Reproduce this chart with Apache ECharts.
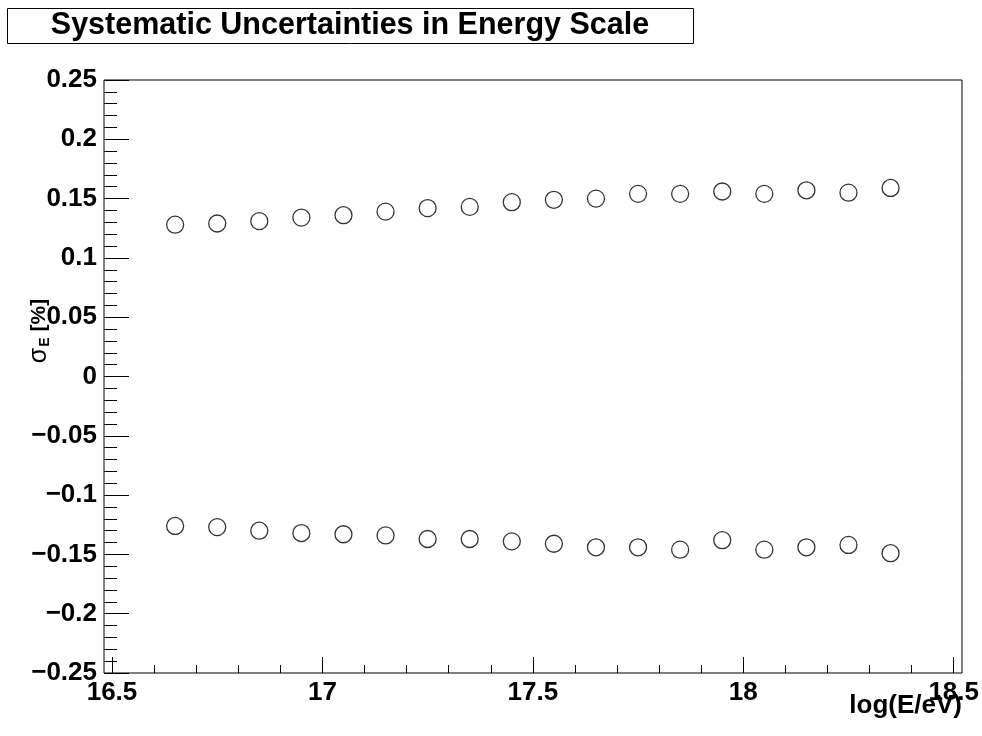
<!DOCTYPE html>
<html>
<head>
<meta charset="utf-8">
<script src="https://cdn.jsdelivr.net/npm/echarts@6/dist/echarts.min.js"></script>
<style>
  html, body { margin: 0; padding: 0; background: #fff; }
  #chart { width: 982px; height: 736px; }
</style>
</head>
<body>
<div id="chart"></div>
<script>
// log10 of the energy bin centres (eV)
var logEnergy = [16.65, 16.75, 16.85, 16.95, 17.05, 17.15, 17.25, 17.35, 17.45,
                 17.55, 17.65, 17.75, 17.85, 17.95, 18.05, 18.15, 18.25, 18.35];
// upward systematic shift of the energy scale
var sigmaUp = [0.128, 0.129, 0.131, 0.134, 0.136, 0.139, 0.142, 0.143, 0.147,
               0.149, 0.150, 0.154, 0.154, 0.156, 0.154, 0.157, 0.155, 0.159];
// downward systematic shift of the energy scale
var sigmaDown = [-0.126, -0.127, -0.130, -0.132, -0.133, -0.134, -0.137, -0.137, -0.139,
                 -0.141, -0.144, -0.144, -0.146, -0.138, -0.146, -0.144, -0.142, -0.149];

var xTicks = { min: 16.5, max: 18.5, step: 0.5 };
var yTicks = { min: -0.25, max: 0.25, step: 0.05 };

var titleText = 'Systematic Uncertainties in Energy Scale';
var xTitle = 'log(E/eV)';

var FONT = '"Liberation Sans", Arial, Helvetica, sans-serif';

function fmt(v) {
  var s = String(parseFloat(v.toFixed(3)));
  return s.replace('-', '\u2212');
}

function pairs(xs, ys) {
  return xs.map(function (x, i) { return [x, ys[i]]; });
}

var chart = echarts.init(document.getElementById('chart'), null, { renderer: 'canvas' });

var marker = {
  type: 'scatter',
  xAxisIndex: 1,
  yAxisIndex: 1,
  symbol: 'circle',
  symbolSize: 17,
  itemStyle: { color: 'rgba(0,0,0,0)', borderColor: '#000', borderWidth: 1.3 },
  emphasis: { disabled: true },
  silent: true
};

chart.setOption({
  backgroundColor: '#fff',
  animation: false,
  textStyle: { fontFamily: FONT },
  grid: [
    // frame with the vertical scale
    { left: 104, right: 20, top: 80, bottom: 63, show: true,
      borderColor: '#000', borderWidth: 1, backgroundColor: 'rgba(0,0,0,0)' },
    // plotting area for the energy scale (slightly inset inside the frame)
    { left: 112, right: 28, top: 80, bottom: 63 }
  ],
  xAxis: [
    { gridIndex: 0, type: 'value', min: 0, max: 1, show: false },
    {
      gridIndex: 1, type: 'value',
      min: xTicks.min, max: xTicks.max, interval: xTicks.step,
      axisLine: { show: false, onZero: false },
      axisTick: { show: true, inside: true, length: 16, lineStyle: { color: '#000', width: 1 } },
      minorTick: { show: true, splitNumber: 5, length: 8, lineStyle: { color: '#000', width: 1 } },
      splitLine: { show: false },
      axisLabel: {
        margin: 7, color: '#000', fontSize: 26, fontWeight: 'bold', fontFamily: FONT,
        showMinLabel: true, showMaxLabel: true,
        formatter: fmt
      }
    }
  ],
  yAxis: [
    {
      gridIndex: 0, type: 'value',
      min: yTicks.min, max: yTicks.max, interval: yTicks.step,
      axisLine: { show: false, onZero: false },
      axisTick: { show: true, inside: true, length: 25, lineStyle: { color: '#000', width: 1 } },
      minorTick: { show: true, splitNumber: 5, length: 13, lineStyle: { color: '#000', width: 1 } },
      splitLine: { show: false },
      axisLabel: {
        margin: 7, color: '#000', fontSize: 26, fontWeight: 'bold', fontFamily: FONT,
        showMinLabel: true, showMaxLabel: true,
        formatter: fmt
      }
    },
    { gridIndex: 1, type: 'value', min: yTicks.min, max: yTicks.max, show: false }
  ],
  graphic: [
    {
      type: 'rect', left: 7, top: 8,
      shape: { width: 686, height: 35 },
      style: { fill: '#fff', stroke: '#000', lineWidth: 1 }
    },
    {
      type: 'text', x: 350, y: 26,
      style: {
        text: titleText, fill: '#000', font: 'bold 30.5px ' + FONT,
        align: 'center', verticalAlign: 'middle'
      }
    },
    {
      type: 'text', x: 962, y: 706,
      style: {
        text: xTitle, fill: '#000', font: 'bold 26px ' + FONT,
        align: 'right', verticalAlign: 'middle'
      }
    },
    {
      type: 'text', x: 39, y: 331, rotation: Math.PI / 2,
      style: {
        text: '{s|\u03c3}{e|E}{b| [%]}',
        align: 'center', verticalAlign: 'middle',
        rich: {
          s: { fontSize: 25, fontFamily: FONT, fill: '#000', fontWeight: 'normal' },
          e: { fontSize: 14, fontFamily: FONT, fill: '#000', fontWeight: 'bold', padding: [12, 0, 0, 1] },
          b: { fontSize: 21, fontFamily: FONT, fill: '#000', fontWeight: 'bold' }
        }
      }
    }
  ],
  series: [
    Object.assign({ name: 'up', data: pairs(logEnergy, sigmaUp) }, marker),
    Object.assign({ name: 'down', data: pairs(logEnergy, sigmaDown) }, marker)
  ]
});
</script>
</body>
</html>
